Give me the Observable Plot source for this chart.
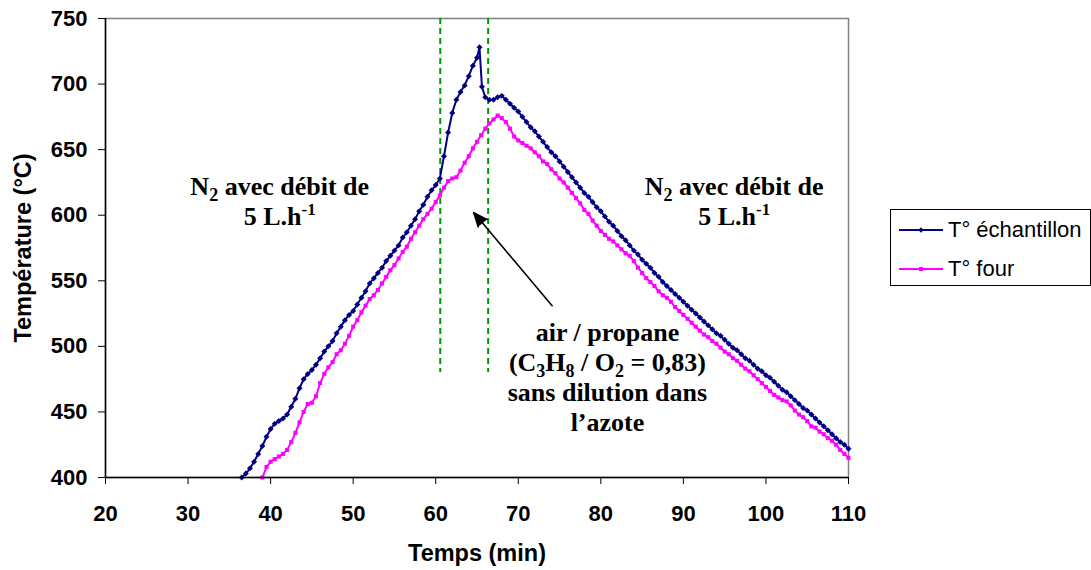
<!DOCTYPE html>
<html><head><meta charset="utf-8">
<script src="https://cdn.jsdelivr.net/npm/d3@7"></script>
<script src="https://cdn.jsdelivr.net/npm/@observablehq/plot@0.6"></script>
<style>
body{margin:0;background:#fff;}
#chart{position:relative;width:1091px;height:570px;background:#fff;}
#legend{position:absolute;left:890px;top:209px;width:199px;height:75px;border:1px solid #000;background:#fff;
  font-family:"Liberation Sans",Arial,sans-serif;font-size:22px;color:#000;}
#legend .item{position:absolute;left:8px;display:flex;align-items:center;white-space:nowrap;}
#legend svg{margin-right:5px;}
</style></head><body><div id="chart"></div>
<script>
// ---- data ----
const xTicks = [20,30,40,50,60,70,80,90,100,110];
const yTicks = [400,450,500,550,600,650,700,750];
const seriesNames = ["T° échantillon", "T° four"];
const seriesColors = ["#000080", "#ff00ff"];
// T° échantillon : [time (min), temperature (°C)]
const echantillon = [
[36.5,400],[37,403],[37.5,407],[38,412],[38.5,418],[39,424],[39.5,431],[40,437],[40.5,441],[41,443],
[41.5,445],[42,448],[42.5,454],[43,460],[43.5,468],[44,475],[44.5,479],[45,482],[45.5,486],[46,491],
[46.5,496],[47,500],[47.5,504],[48,510],[48.5,515],[49,520],[49.5,524],[50,527],[50.5,532],[51,537],
[51.5,542],[52,548],[52.5,552],[53,556],[53.5,560],[54,565],[54.5,569],[55,573],[55.5,577],[56,583],
[56.5,587],[57,592],[57.5,597],[58,603],[58.5,608],[59,614],[59.5,619],[60,623],[60.5,628],[61,645],
[61.5,663],[62,678],[62.5,688],[63,694],[63.5,699],[64,706],[64.5,714],[65,720],[65.3,728],[65.6,698],
[66,690],[66.5,688],[67,688],[67.5,690],[68,691],[68.5,688],[69,685],[69.5,682],[70,679],[70.5,675],
[71,671],[71.5,667],[72,664],[72.5,660],[73,656],[73.5,652],[74,648],[74.5,645],[75,641],[75.5,637],
[76,633],[76.5,629],[77,625],[77.5,621],[78,617],[78.5,614],[79,610],[79.5,606],[80,603],[80.5,599],
[81,595],[81.5,592],[82,588],[82.5,584],[83,581],[83.5,577],[84,573],[84.5,570],[85,566],[85.5,563],
[86,560],[86.5,556],[87,553],[87.5,549],[88,546],[88.5,543],[89,540],[89.5,537],[90,534],[90.5,531],
[91,528],[91.5,525],[92,522],[92.5,519],[93,516],[93.5,513],[94,510],[94.5,508],[95,505],[95.5,502],
[96,499],[96.5,497],[97,494],[97.5,491],[98,489],[98.5,486],[99,483],[99.5,481],[100,478],[100.5,476],
[101,473],[101.5,470],[102,467],[102.5,465],[103,462],[103.5,459],[104,456],[104.5,453],[105,451],[105.5,448],
[106,445],[106.5,442],[107,439],[107.5,436],[108,433],[108.5,430],[109,427],[109.5,425],[110,422]
];
// T° four : [time (min), temperature (°C)]
const four = [
[39,400],[39.5,408],[40,412],[40.5,414],[41,416],[41.5,418],[42,421],[42.5,427],[43,434],[43.5,442],
[44,450],[44.5,456],[45,457],[45.5,462],[46,472],[46.5,479],[47,484],[47.5,488],[48,494],[48.5,497],
[49,502],[49.5,508],[50,515],[50.5,520],[51,526],[51.5,531],[52,536],[52.5,539],[53,543],[53.5,548],
[54,553],[54.5,558],[55,562],[55.5,567],[56,572],[56.5,576],[57,582],[57.5,587],[58,592],[58.5,597],
[59,601],[59.5,605],[60,610],[60.5,615],[61,621],[61.5,626],[62,628],[62.5,629],[63,634],[63.5,640],
[64,645],[64.5,651],[65,656],[65.5,661],[66,666],[66.5,670],[67,673],[67.5,676],[68,674],[68.5,671],
[69,666],[69.5,660],[70,657],[70.5,655],[71,653],[71.5,651],[72,648],[72.5,645],[73,641],[73.5,639],
[74,635],[74.5,632],[75,628],[75.5,625],[76,621],[76.5,617],[77,613],[77.5,609],[78,604],[78.5,601],
[79,596],[79.5,592],[80,588],[80.5,585],[81,582],[81.5,580],[82,577],[82.5,574],[83,571],[83.5,569],
[84,565],[84.5,560],[85,556],[85.5,552],[86,549],[86.5,546],[87,542],[87.5,539],[88,537],[88.5,534],
[89,530],[89.5,527],[90,524],[90.5,521],[91,518],[91.5,515],[92,512],[92.5,509],[93,507],[93.5,504],
[94,502],[94.5,499],[95,496],[95.5,494],[96,491],[96.5,489],[97,486],[97.5,483],[98,481],[98.5,478],
[99,475],[99.5,472],[100,469],[100.5,466],[101,463],[101.5,461],[102,459],[102.5,458],[103,455],[103.5,451],
[104,448],[104.5,446],[105,443],[105.5,439],[106,438],[106.5,435],[107,433],[107.5,430],[108,428],[108.5,425],
[109,421],[109.5,418],[110,415]
];
// phase boundaries (min) and their vertical extent (°C)
const phaseTimes = [60.55, 66.35];
const phaseRange = [750, 480];
// annotations
const noteTexts = ["N_2 avec débit de\n5 L.h^-1", "N_2 avec débit de\n5 L.h^-1",
  "air / propane\n(C_3H_8 / O_2 = 0,83)\nsans dilution dans\nl’azote"];
const noteX = [41.1, 96.15, 80.8];
const noteY = [611, 611, 477];
const arrowFrom = [74.1, 531];
const arrowTo = [64.6, 602];
const xLabel = "Temps (min)";
const yLabel = "Température (°C)";

// ---- tables ----
const ech = echantillon.map(([t, v]) => ({t, v}));
const fou = four.map(([t, v]) => ({t, v}));
const notes = noteTexts.map((s, i) => ({x: noteX[i], y: noteY[i], s}));
const phases = phaseTimes.map(t => ({t, y1: phaseRange[0], y2: phaseRange[1]}));
const arrows = [{x1: arrowFrom[0], y1: arrowFrom[1], x2: arrowTo[0], y2: arrowTo[1]}];

const sans = "'Liberation Sans', Arial, sans-serif";
const serif = "'Liberation Serif', 'Times New Roman', serif";

const chart = Plot.plot({
  width: 1091, height: 570,
  marginLeft: 105, marginRight: 243, marginTop: 18, marginBottom: 93,
  style: {fontFamily: sans, fontSize: "22px", fontWeight: "bold", background: "#fff", color: "#000"},
  x: {domain: [20, 110]},
  y: {domain: [400, 750]},
  marks: [
    Plot.frame({stroke: "#808080", strokeWidth: 1.5}),
    Plot.ruleX(phases, {x: "t", y1: "y1", y2: "y2", stroke: "#009900", strokeWidth: 2, strokeDasharray: "6,4"}),
    Plot.line(fou, {x: "t", y: "v", stroke: seriesColors[1], strokeWidth: 2}),
    Plot.dot(fou, {x: "t", y: "v", symbol: "square", r: 2.3, fill: seriesColors[1], stroke: "none"}),
    Plot.line(ech, {x: "t", y: "v", stroke: seriesColors[0], strokeWidth: 2}),
    Plot.dot(ech, {x: "t", y: "v", symbol: "diamond2", r: 2.7, fill: seriesColors[0], stroke: "none"}),
    Plot.arrow(arrows, {x1: "x1", y1: "y1", x2: "x2", y2: "y2", stroke: "#000", fill: "#000", strokeWidth: 1.6, headLength: 14, headAngle: 45}),
    Plot.text(notes, {x: "x", y: "y", text: "s", fontFamily: serif, fontSize: 26, fontWeight: "bold", lineHeight: 1.15, fill: "#000"}),
    Plot.ruleX([20], {stroke: "#000", strokeWidth: 1.5}),
    Plot.ruleY([400], {stroke: "#000", strokeWidth: 1.5}),
    Plot.axisX({ticks: xTicks, tickSize: 7, tickPadding: 21, fontSize: 22, label: xLabel, labelAnchor: "center", labelOffset: 83, labelArrow: "none"}),
    Plot.axisY({ticks: yTicks, tickSize: 7, tickPadding: 11, fontSize: 22, label: yLabel, labelAnchor: "center", labelOffset: 91, labelArrow: "none"})
  ]
});
document.getElementById("chart").appendChild(chart);

// axis titles slightly larger than tick labels
chart.querySelectorAll("text").forEach(node => {
  if (node.textContent === xLabel || node.textContent === yLabel) node.setAttribute("font-size", "23.5");
});

// sub/superscripts in annotation text ( _x subscript, ^x superscript )
const NS = "http://www.w3.org/2000/svg";
chart.querySelectorAll("text, tspan").forEach(node => {
  if (node.querySelector && node.querySelector("tspan")) return;
  const s = node.textContent;
  if (!/[_^]/.test(s)) return;
  const parts = s.split(/([_^]-?\d+)/).filter(p => p !== "");
  node.textContent = "";
  let shift = 0;
  parts.forEach(p => {
    const ts = document.createElementNS(NS, "tspan");
    let target = 0;
    if (p[0] === "_") { target = 6; ts.setAttribute("font-size", "18"); p = p.slice(1); }
    else if (p[0] === "^") { target = -10; ts.setAttribute("font-size", "17"); p = p.slice(1); }
    if (target !== shift) { ts.setAttribute("dy", target - shift); shift = target; }
    ts.textContent = p;
    node.appendChild(ts);
  });
});

// legend
const legend = document.createElement("div");
legend.id = "legend";
const symbols = ["diamond", "square"];
seriesNames.forEach((name, i) => {
  const item = document.createElement("div");
  item.className = "item";
  item.style.top = (i === 0 ? 7 : 46) + "px";
  const mk = symbols[i] === "diamond"
    ? `<path d="M22,1.3 L24.7,4 L22,6.7 L19.3,4 Z" fill="${seriesColors[i]}"/>`
    : `<rect x="20" y="2" width="4" height="4" fill="${seriesColors[i]}"/>`;
  item.innerHTML = `<svg width="44" height="8"><line x1="0" y1="4" x2="44" y2="4" stroke="${seriesColors[i]}" stroke-width="1.8"/>${mk}</svg><span>${name}</span>`;
  legend.appendChild(item);
});
document.getElementById("chart").appendChild(legend);
</script>
</body></html>
